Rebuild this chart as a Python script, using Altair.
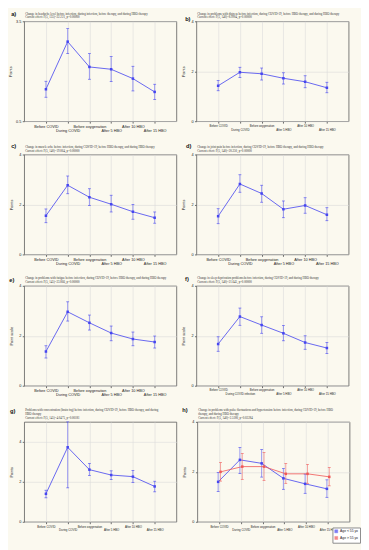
import altair as alt
import pandas as pd

IDX = [0, 1, 2, 3, 4, 5]
XLAB = ["Before COVID", "During COVID", "Before oxygenation", "After 5 HBO", "After 10 HBO", "After 15 HBO"]
XLAB_F = ["Before COVID", "During COVID infection", "Before oxygenation", "After 5 HBO", "After 10 HBO", "After 15 HBO"]

A_MEAN = [1.46, 2.89, 2.13, 2.06, 1.78, 1.38]
A_LOW = [1.22, 2.53, 1.76, 1.69, 1.41, 1.15]
A_HIGH = [1.70, 3.28, 2.53, 2.44, 2.15, 1.61]

B_MEAN = [1.42, 1.96, 1.90, 1.72, 1.58, 1.34]
B_LOW = [1.22, 1.75, 1.65, 1.49, 1.34, 1.14]
B_HIGH = [1.63, 2.16, 2.13, 1.94, 1.82, 1.56]

C_MEAN = [1.55, 2.77, 2.29, 2.01, 1.71, 1.47]
C_LOW = [1.27, 2.43, 1.96, 1.70, 1.41, 1.25]
C_HIGH = [1.82, 3.14, 2.63, 2.37, 2.00, 1.70]

D_MEAN = [1.53, 2.82, 2.44, 1.81, 1.96, 1.59]
D_LOW = [1.23, 2.49, 2.09, 1.47, 1.65, 1.35]
D_HIGH = [1.83, 3.19, 2.77, 2.14, 2.27, 1.87]

E_MEAN = [1.37, 2.96, 2.52, 2.11, 1.87, 1.75]
E_LOW = [1.11, 2.59, 2.23, 1.80, 1.60, 1.51]
E_HIGH = [1.60, 3.36, 2.83, 2.39, 2.15, 1.99]

F_MEAN = [1.67, 2.77, 2.43, 2.10, 1.73, 1.51]
F_LOW = [1.38, 2.42, 2.10, 1.80, 1.46, 1.29]
F_HIGH = [1.96, 3.11, 2.76, 2.41, 2.00, 1.73]

G_MEAN = [1.40, 3.73, 2.61, 2.34, 2.26, 1.77]
G_LOW = [1.20, 1.70, 2.31, 2.11, 1.97, 1.50]
G_HIGH = [1.58, 5.00, 2.92, 2.55, 2.57, 2.03]

H_YOUNG_MEAN = [1.60, 2.48, 2.34, 1.74, 1.52, 1.32]
H_YOUNG_LOW = [1.21, 1.93, 1.79, 1.30, 1.14, 0.98]
H_YOUNG_HIGH = [1.97, 2.97, 2.89, 2.13, 1.91, 1.68]
H_OLD_MEAN = [2.00, 2.21, 2.21, 1.92, 1.92, 1.80]
H_OLD_LOW = [1.63, 1.70, 1.66, 1.54, 1.54, 1.44]
H_OLD_HIGH = [2.37, 2.73, 2.77, 2.33, 2.30, 2.17]

GROUPS = ["Age < 55 yo", "Age > 55 yo"]
BLUE = "#4646f0"
RED = "#f05858"
BG = "#fbf9ef"

W, H = 160, 105
TFS = 3.2


def x_enc(labels, fsize):
    expr = "[" + ",".join("'%s'" % l for l in labels) + "][datum.value]"
    return alt.X(
        "idx:O",
        scale=alt.Scale(type="point", padding=1.15),
        axis=alt.Axis(
            title=None, labelExpr=expr, labelAngle=0, labelFontSize=fsize,
            labelFont="Liberation Sans", labelColor="#222", labelOverlap=False,
            labelPadding={"condition": {"test": "datum.value % 2 == 1", "value": 5.5}, "value": 1.5},
            tickSize=2, tickColor="#666", domain=False, grid=True,
            gridColor="#dadada", gridWidth=0.6,
        ),
    )


def y_enc(field, dom, vals, fmt, ytitle):
    return alt.Y(
        field,
        scale=alt.Scale(domain=dom, nice=False, zero=False),
        axis=alt.Axis(
            title=ytitle, values=vals, format=fmt, labelFontSize=4,
            labelFont="Liberation Sans", labelColor="#222", titleFontSize=4,
            titleFont="Liberation Sans", titleFontWeight="normal", titleColor="#222",
            titlePadding=3, tickSize=2, tickColor="#666", domain=False,
            grid=True, gridColor="#dadada", gridWidth=0.6, labelPadding=1.5,
            minExtent=8,
        ),
    )


def series(mean, low, high, color, labels, fsize, dom, vals, fmt, ytitle,
           xoff=0, group=None, legend=False):
    df = pd.DataFrame({"idx": IDX, "mean": mean, "low": low, "high": high})
    if group is not None:
        df["grp"] = group
    x = x_enc(labels, fsize)
    y = y_enc("mean:Q", dom, vals, fmt, ytitle)
    if group is not None:
        col = alt.Color(
            "grp:N",
            scale=alt.Scale(domain=GROUPS, range=[BLUE, RED]),
            legend=alt.Legend(
                orient="none", legendX=324, legendY=532, title=None,
                symbolType="square", symbolSize=10, labelFontSize=3.5,
                labelFont="Liberation Sans", labelColor="#222",
                strokeColor="#888", padding=2, rowPadding=1, fillColor="#ffffff",
                symbolStrokeWidth=0.5, labelOffset=2,
            ) if legend else None,
        )
        cl = {"color": col}
    else:
        cl = {"color": alt.value(color)}
    base = alt.Chart(df)
    line = base.mark_line(strokeWidth=1, opacity=0.85, xOffset=xoff).encode(x=x, y=y, **cl)
    rule = base.mark_rule(strokeWidth=0.8, opacity=0.7, xOffset=xoff).encode(
        x=x, y=alt.Y("low:Q"), y2="high:Q", **cl)
    cap_lo = base.mark_tick(size=3, thickness=0.8, opacity=0.8, xOffset=xoff).encode(
        x=x, y=alt.Y("low:Q"), **cl)
    cap_hi = base.mark_tick(size=3, thickness=0.8, opacity=0.8, xOffset=xoff).encode(
        x=x, y=alt.Y("high:Q"), **cl)
    pts = base.mark_point(shape="square", filled=True, size=7, opacity=1, xOffset=xoff).encode(
        x=x, y=y, **cl)
    return [rule, cap_lo, cap_hi, line, pts]


def letter(txt, dx, dy):
    return alt.Chart(pd.DataFrame({"t": [txt]})).mark_text(
        fontSize=6, fontWeight="bold", font="Liberation Sans", color="#111",
        align="center", baseline="middle").encode(
        text="t:N", x=alt.value(dx), y=alt.value(dy))


def title_text(lines):
    n = len(lines)
    out = []
    for i, ln in enumerate(lines):
        out.append(alt.Chart(pd.DataFrame({"t": [ln]})).mark_text(
            fontSize=TFS, font="Liberation Serif", color="#333", align="left",
            baseline="alphabetic", limit=W).encode(
            text="t:N", x=alt.value(1), y=alt.value(-(4 * (n - i) - 1))))
    return out


def panel(let, lpos, title, mean, low, high, dom, vals, fmt, ytitle, labels, fsize):
    layers = series(mean, low, high, BLUE, labels, fsize, dom, vals, fmt, ytitle)
    layers += title_text(title)
    layers.append(letter(let, *lpos))
    return alt.layer(*layers).properties(width=W, height=H)


Y4 = [0, 1, 2, 3, 4]

pa = panel("a)", (-11, -8),
           ["Change in headache level before infection, during infection, before therapy, and during HBO therapy",
            "Current effect: F(5, 135)=22.221, p=0.00000"],
           A_MEAN, A_LOW, A_HIGH, [0.5, 3.5], [0.5, 1.0, 1.5, 2.0, 2.5, 3.0, 3.5], ".1f", "Points", XLAB, 4)
pb = panel("b)", (-9, -2),
           ["Change in problems with distress before infection, during COVID-19, before HBO therapy, and during HBO therapy",
            "Current effect: F(5, 140)=8.9904, p=0.00000"],
           B_MEAN, B_LOW, B_HIGH, [0, 4], Y4, "d", "Points", XLAB, 3)
pc = panel("c)", (-11, -9),
           ["Change in muscle ache before infection, during COVID-19, before HBO therapy, and during HBO therapy",
            "Current effect: F(5, 140)=19.864, p=0.00000"],
           C_MEAN, C_LOW, C_HIGH, [0, 4], Y4, "d", "Points", XLAB, 4)
pd_ = panel("d)", (-8, -9),
            ["Change in joint pain before infection, during COVID-19, before HBO therapy, and during HBO therapy",
             "Current effect: F(5, 140)=20.250, p=0.00000"],
            D_MEAN, D_LOW, D_HIGH, [0, 4], Y4, "d", "Points", XLAB, 4)
pe = panel("e)", (-13, -6),
           ["Change in problems with fatigue before infection, during COVID-19, before HBO therapy, and during HBO therapy",
            "Current effect: F(5, 145)=23.866, p=0.00000"],
           E_MEAN, E_LOW, E_HIGH, [0, 4], Y4, "d", "Point scale", XLAB, 4)
pf = panel("f)", (-10, -7),
           ["Change in sleep deprivation problems before infection, during COVID-19, and during HBO therapy",
            "Current effect: F(5, 140)=21.645, p=0.00000"],
           F_MEAN, F_LOW, F_HIGH, [0, 4], Y4, "d", "Point scale", XLAB_F, 3)
pg = panel("g)", (-12, -11),
           ["Problems with concentration (brain fog) before infection, during COVID-19, before HBO therapy, and during",
            "HBO therapy",
            "Current effect: F(5, 145)=4.0475, p=0.00181"],
           G_MEAN, G_LOW, G_HIGH, [0, 5], [0, 1, 2, 3, 4, 5], "d", "Points", XLAB, 3)

h_layers = (series(H_YOUNG_MEAN, H_YOUNG_LOW, H_YOUNG_HIGH, BLUE, XLAB, 3, [0, 4], Y4, "d", "Points",
                   xoff=-1, group=GROUPS[0], legend=True)
            + series(H_OLD_MEAN, H_OLD_LOW, H_OLD_HIGH, RED, XLAB, 3, [0, 4], Y4, "d", "Points",
                     xoff=1.5, group=GROUPS[1]))
h_layers += title_text(
    ["Change in problems with pulse fluctuations and hypertension before infection, during COVID-19, before HBO",
     "therapy, and during HBO therapy",
     "Current effect: F(5, 140)=2.5180, p=0.03284"])
h_layers.append(letter("h)", -13, -12))
ph = alt.layer(*h_layers).properties(width=W, height=H)

rows = [
    alt.hconcat(pa, pb, spacing=4),
    alt.hconcat(pc, pd_, spacing=4),
    alt.hconcat(pe, pf, spacing=4),
    alt.hconcat(pg, ph, spacing=4),
]

chart = alt.vconcat(*rows, spacing=10).properties(
    background=BG, padding={"top": -12, "left": 0, "right": 0, "bottom": 0}
).configure_view(stroke="#555", strokeWidth=0.8, fill=BG)

chart.save("out.html", embed_options={"renderer": "svg", "actions": False})
